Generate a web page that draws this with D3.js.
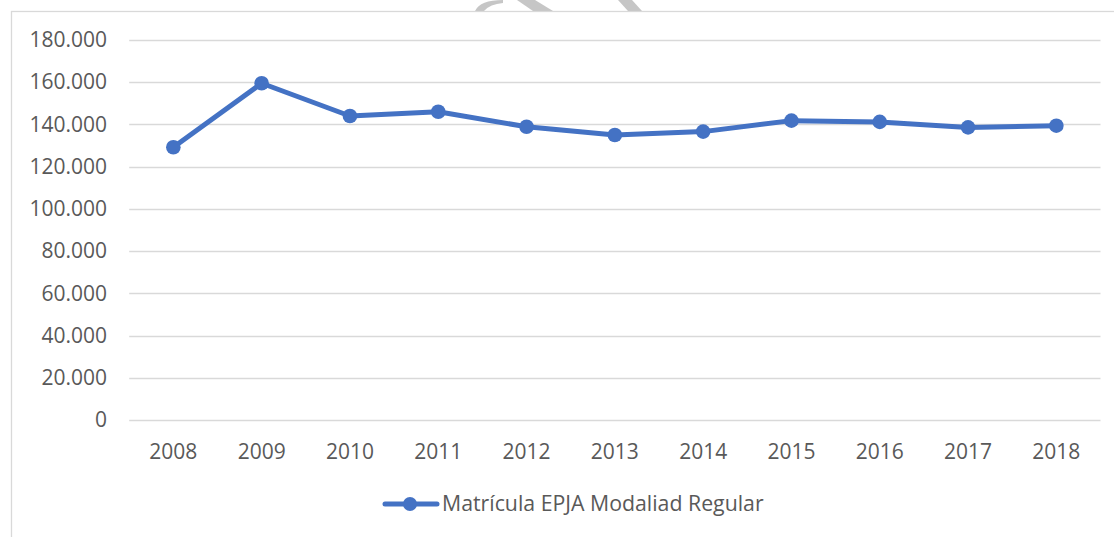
<!DOCTYPE html>
<html>
<head>
<meta charset="utf-8">
<script src="https://cdn.jsdelivr.net/npm/d3@7"></script>
<style>
  body { margin: 0; background: #fff; }
  svg { display: block; }
  svg text { font-family: 'Open Sans', sans-serif; }
  .grid line { stroke: #d9d9d9; stroke-width: 1.3px; }
  .legend text { fill: #595959; font-size: 21.3px; }
</style>
</head>
<body>
<svg id="chart" width="1114" height="537"></svg>
<script>
const years = ['2008', '2009', '2010', '2011', '2012', '2013', '2014', '2015', '2016', '2017', '2018'];
const matricula = [129200, 159500, 144000, 146000, 138900, 135000, 136600, 141800, 141200, 138600, 139400];
const yTicks = [0, 20000, 40000, 60000, 80000, 100000, 120000, 140000, 160000, 180000];
const seriesName = 'Matrícula EPJA Modaliad Regular';

const blue = '#4472C4';
const svg = d3.select('#chart');

// watermark fragments peeking above the chart frame
const wm = svg.append('g').attr('fill', '#c6c6c6');
wm.append('path').attr('d', 'M475,11 Q480,0 503,0 L503,3 Q490,4 484,11 Z');
wm.append('path').attr('d', 'M517,0 L535,0 L553,11 L533,11 Z');
wm.append('path').attr('d', 'M618,0 L632,0 L642,11 L628,11 Z');

// chart frame
svg.append('rect')
  .attr('x', 11.5).attr('y', 11.5)
  .attr('width', 1120).attr('height', 540)
  .attr('fill', '#fff')
  .attr('stroke', '#d9d9d9')
  .attr('stroke-width', 1.3);

const x = d3.scaleBand().domain(years).range([129.2, 1100.5]).padding(0);
const y = d3.scaleLinear().domain([0, 180000]).range([420, 40]);

const fmt = d3.formatLocale({ decimal: ',', thousands: '.', grouping: [3], currency: ['', ''] }).format(',d');

// gridlines
svg.append('g')
  .attr('class', 'grid')
  .selectAll('line')
  .data(yTicks)
  .join('line')
  .attr('x1', x.range()[0])
  .attr('x2', x.range()[1])
  .attr('y1', d => Math.round(y(d)) + 0.5)
  .attr('y2', d => Math.round(y(d)) + 0.5);

// y axis labels
const yAxis = svg.append('g')
  .attr('transform', 'translate(129,0)')
  .call(d3.axisLeft(y).tickValues(yTicks).tickFormat(fmt).tickSize(0).tickPadding(22));
yAxis.attr('font-family', null).attr('font-size', null);
yAxis.select('.domain').remove();
yAxis.selectAll('text')
  .attr('fill', '#595959')
  .style('font-family', "'Open Sans', sans-serif")
  .style('font-size', '21px');

// x axis labels
const xAxis = svg.append('g')
  .attr('transform', 'translate(0,420)')
  .call(d3.axisBottom(x).tickSize(0).tickPadding(24));
xAxis.attr('font-family', null).attr('font-size', null);
xAxis.select('.domain').remove();
xAxis.selectAll('text')
  .attr('fill', '#595959')
  .style('font-family', "'Open Sans', sans-serif")
  .style('font-size', '21px');

// series line
const line = d3.line()
  .x((d, i) => x(years[i]) + x.bandwidth() / 2)
  .y(d => y(d));

svg.append('path')
  .datum(matricula)
  .attr('fill', 'none')
  .attr('stroke', blue)
  .attr('stroke-width', 5)
  .attr('stroke-linejoin', 'round')
  .attr('d', line);

svg.append('g')
  .selectAll('circle')
  .data(matricula)
  .join('circle')
  .attr('cx', (d, i) => x(years[i]) + x.bandwidth() / 2)
  .attr('cy', d => y(d))
  .attr('r', 7.3)
  .attr('fill', blue);

// legend
const legend = svg.append('g').attr('class', 'legend').attr('transform', 'translate(0,504)');
legend.append('line')
  .attr('x1', 385).attr('x2', 437)
  .attr('stroke', blue).attr('stroke-width', 5).attr('stroke-linecap', 'round');
legend.append('circle').attr('cx', 410).attr('r', 7).attr('fill', blue);
legend.append('text')
  .attr('x', 442)
  .attr('dy', '0.35em')
  .text(seriesName);
</script>
</body>
</html>
